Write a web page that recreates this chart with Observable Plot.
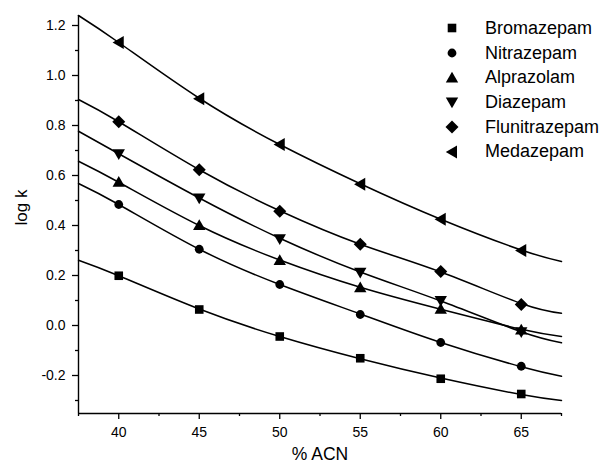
<!DOCTYPE html>
<html><head><meta charset="utf-8">
<script src="https://cdn.jsdelivr.net/npm/d3@7"></script>
<script src="https://cdn.jsdelivr.net/npm/@observablehq/plot@0.6"></script>
<style>
body{margin:0;background:#fff;}
#wrap{position:relative;width:610px;height:466px;font-family:"Liberation Sans",Arial,sans-serif;color:#000;}
#legend{position:absolute;left:440px;top:16px;}
.row{display:flex;align-items:center;height:24.7px;font-size:18px;}
.row svg{margin-right:21px;}
</style></head><body><div id="wrap"></div>
<script>
// ---- data ----
const acn = [40, 45, 50, 55, 60, 65];
const compounds = ["Bromazepam", "Nitrazepam", "Alprazolam", "Diazepam", "Flunitrazepam", "Medazepam"];
const bromazepam    = [0.199, 0.064, -0.044, -0.131, -0.213, -0.274];
const nitrazepam    = [0.484, 0.305, 0.164, 0.044, -0.068, -0.163];
const alprazolam    = [0.573, 0.400, 0.260, 0.151, 0.065, -0.018];
const diazepam      = [0.687, 0.510, 0.347, 0.213, 0.100, -0.025];
const flunitrazepam = [0.815, 0.623, 0.457, 0.325, 0.216, 0.084];
const medazepam     = [1.132, 0.907, 0.724, 0.565, 0.425, 0.300];

// fitted curves
const fitAcn = [37.5, 40, 45, 50, 55, 60, 65, 67.5];
const fitBromazepam    = [0.261, 0.199, 0.066, -0.044, -0.133, -0.210, -0.276, -0.300];
const fitNitrazepam    = [0.568, 0.484, 0.305, 0.164, 0.046, -0.068, -0.165, -0.203];
const fitAlprazolam    = [0.657, 0.573, 0.400, 0.262, 0.153, 0.065, -0.015, -0.044];
const fitDiazepam      = [0.777, 0.687, 0.510, 0.349, 0.214, 0.098, -0.025, -0.069];
const fitFlunitrazepam = [0.904, 0.815, 0.623, 0.459, 0.325, 0.214, 0.088, 0.049];
const fitMedazepam     = [1.240, 1.132, 0.909, 0.724, 0.567, 0.425, 0.302, 0.256];

const xMajor = [40, 45, 50, 55, 60, 65];
const xMinor = [37.5, 42.5, 47.5, 52.5, 57.5, 62.5, 67.5];
const yMajor = [-0.2, 0, 0.2, 0.4, 0.6, 0.8, 1.0, 1.2];
const yMinor = [-0.3, -0.1, 0.1, 0.3, 0.5, 0.7, 0.9, 1.1];
const xDomain = [37.5, 67.5];
const yDomain = [-0.352, 1.24];

// ---- symbols ----
function poly(pts) {
  return { draw(ctx, size) {
    const s = Math.sqrt(size / Math.PI) / 4.5;
    ctx.moveTo(pts[0][0] * s, pts[0][1] * s);
    for (let i = 1; i < pts.length; i++) ctx.lineTo(pts[i][0] * s, pts[i][1] * s);
    ctx.closePath();
  }};
}
const symSquare = poly([[-4.3,-4.3],[4.3,-4.3],[4.3,4.3],[-4.3,4.3]]);
const symCircle = { draw(ctx, size) { const r = Math.sqrt(size / Math.PI) * 0.98; ctx.moveTo(r, 0); ctx.arc(0, 0, r, 0, 2 * Math.PI); } };
const symUp = poly([[0,-6.2],[6.2,4.6],[-6.2,4.6]]);
const symDown = poly([[0,6.2],[6.2,-4.6],[-6.2,-4.6]]);
const symDiamond = poly([[0,-6.5],[6.5,0],[0,6.5],[-6.5,0]]);
const symLeft = poly([[-6.2,0],[5,-6.5],[5,6.5]]);
const symbols = [symSquare, symCircle, symUp, symDown, symDiamond, symLeft];

const values = [bromazepam, nitrazepam, alprazolam, diazepam, flunitrazepam, medazepam];
const fits = [fitBromazepam, fitNitrazepam, fitAlprazolam, fitDiazepam, fitFlunitrazepam, fitMedazepam];

const points = compounds.flatMap((c, i) => acn.map((x, j) => ({compound: c, acn: x, logk: values[i][j]})));
const curves = compounds.flatMap((c, i) => fitAcn.map((x, j) => ({compound: c, acn: x, logk: fits[i][j]})));

const marks = [
  Plot.ruleX([xDomain[0]], {stroke: "black", strokeWidth: 1.4}),
  Plot.ruleY([yDomain[0]], {stroke: "black", strokeWidth: 1.4}),
  Plot.axisX(xMajor, {tickSize: 6, tickPadding: 8, fontSize: 14, label: null, stroke: "black", strokeWidth: 1.3, fill: "black"}),
  Plot.axisX(xMinor, {tickSize: 3, tickFormat: () => "", label: null, stroke: "black", strokeWidth: 1.3}),
  Plot.axisY(yMajor, {tickSize: 6, tickPadding: 7, fontSize: 14, tickFormat: d => d.toFixed(1), label: null, stroke: "black", strokeWidth: 1.3, fill: "black"}),
  Plot.axisY(yMinor, {tickSize: 3, tickFormat: () => "", label: null, stroke: "black", strokeWidth: 1.3}),
  Plot.line(curves, {x: "acn", y: "logk", z: "compound", curve: "natural", stroke: "black", strokeWidth: 1.5}),
  ...compounds.map((c, i) => Plot.dot(points.filter(d => d.compound === c), {x: "acn", y: "logk", symbol: symbols[i], r: 4.5, fill: "black", stroke: "none"})),
  Plot.text(["log k"], {frameAnchor: "left", dx: -57, dy: 11, rotate: -90, fontSize: 17, fill: "black"}),
  Plot.text(["% ACN"], {frameAnchor: "bottom", dy: 46, fontSize: 17.5, fill: "black"})
];

const chart = Plot.plot({
  width: 610, height: 466,
  marginLeft: 78, marginRight: 49, marginTop: 15, marginBottom: 53,
  x: {domain: xDomain},
  y: {domain: yDomain},
  style: {fontFamily: "'Liberation Sans', Arial, sans-serif", background: "white", color: "black", overflow: "visible"},
  marks
});
const wrap = document.getElementById("wrap");
wrap.appendChild(chart);

// ---- legend ----
const legend = document.createElement("div");
legend.id = "legend";
compounds.forEach((c, i) => {
  const row = document.createElement("div");
  row.className = "row";
  const svg = d3.create("svg").attr("width", 24).attr("height", 16);
  svg.append("path").attr("transform", "translate(12,8)")
    .attr("d", d3.symbol(symbols[i], Math.PI * 4.5 * 4.5)()).attr("fill", "black");
  row.appendChild(svg.node());
  const span = document.createElement("span");
  span.textContent = c;
  row.appendChild(span);
  legend.appendChild(row);
});
wrap.appendChild(legend);
</script></body></html>
